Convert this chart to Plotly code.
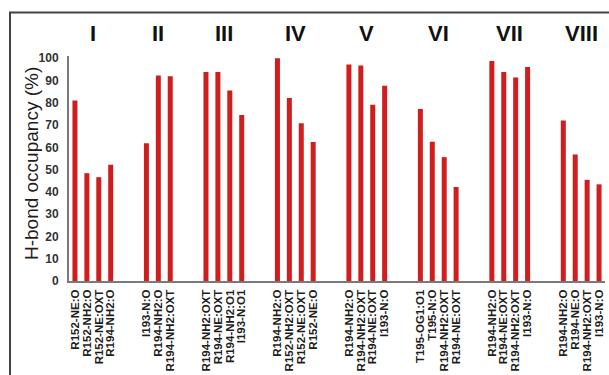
import plotly.graph_objects as go

# H-bond occupancy (%) per interaction, grouped by complex I-VIII
groups = ["I", "II", "III", "IV", "V", "VI", "VII", "VIII"]

labels_I = ["R152-NE:O", "R152-NH2:O", "R152-NE:OXT", "R194-NH2:O"]
values_I = [81.0, 48.4, 46.6, 52.2]

labels_II = ["I193-N:O", "R194-NH2:O", "R194-NH2:OXT"]
values_II = [61.8, 92.3, 91.9]

labels_III = ["R194-NH2:OXT", "R194-NE:OXT", "R194-NH2:O1", "I193-N:O1"]
values_III = [93.8, 93.8, 85.5, 74.5]

labels_IV = ["R194-NH2:O", "R152-NH2:OXT", "R152-NE:OXT", "R152-NE:O"]
values_IV = [100.0, 82.2, 70.8, 62.4]

labels_V = ["R194-NH2:O", "R194-NH2:OXT", "R194-NE:OXT", "I193-N:O"]
values_V = [97.2, 96.7, 79.1, 87.7]

labels_VI = ["T195-OG1:O1", "T195-N:O", "R194-NH2:OXT", "R194-NE:OXT"]
values_VI = [77.2, 62.5, 55.6, 42.2]

labels_VII = ["R194-NH2:O", "R194-NE:OXT", "R194-NH2:OXT", "I193-N:O"]
values_VII = [98.8, 93.8, 91.4, 96.1]

labels_VIII = ["R194-NH2:O", "R194-NE:O", "R194-NH2:OXT", "I193-N:O"]
values_VIII = [72.1, 56.8, 45.4, 43.4]

group_labels = [labels_I, labels_II, labels_III, labels_IV,
                labels_V, labels_VI, labels_VII, labels_VIII]
group_values = [values_I, values_II, values_III, values_IV,
                values_V, values_VI, values_VII, values_VIII]

GAP = 2  # empty slots between groups

xs, ys, ticks, centers = [], [], [], []
slot = 0
for labs, vals in zip(group_labels, group_values):
    start = slot
    for lab, v in zip(labs, vals):
        xs.append(slot)
        ys.append(v)
        ticks.append(lab)
        slot += 1
    centers.append((start + slot - 1) / 2)
    slot += GAP
last_slot = xs[-1]

BAR = "#d01e1e"
AXIS = "#7a7a7a"
TEXT = "#1e1e1e"
FONT = "Liberation Sans, Arial, sans-serif"

fig = go.Figure(go.Bar(
    x=xs, y=ys, width=0.42,
    marker=dict(color=BAR, line=dict(width=0)),
    hoverinfo="skip",
))

W, H = 609, 375
ML, MR, MT, MB = 69, 4, 56, 92
pw, ph = W - ML - MR, H - MT - MB

def px_x(p):
    return (p - ML) / pw

def px_y(p):
    return (H - MB - p) / ph

annotations = [
    dict(x=c, y=px_y(33), xref="x", yref="paper", text=g, showarrow=False,
         font=dict(family=FONT, size=22, color="#111", weight="bold"),
         xanchor="center", yanchor="middle")
    for g, c in zip(groups, centers)
]
annotations.append(dict(
    x=px_x(31), y=px_y(165), xref="paper", yref="paper",
    text="H-bond occupancy (%)", showarrow=False, textangle=-90,
    font=dict(family=FONT, size=19, color=TEXT),
    xanchor="center", yanchor="middle"))

frame = dict(
    type="path", xref="paper", yref="paper",
    path=f"M {px_x(10)} {px_y(380)} L {px_x(10)} {px_y(12)} L {px_x(615)} {px_y(12)}",
    line=dict(color="#444", width=2),
)

fig.update_layout(
    width=W, height=H,
    margin=dict(l=ML, r=MR, t=MT, b=MB),
    paper_bgcolor="white", plot_bgcolor="white",
    showlegend=False,
    annotations=annotations,
    shapes=[frame],
    xaxis=dict(
        range=[-0.5, last_slot + 0.5],
        tickmode="array", tickvals=xs, ticktext=ticks,
        tickangle=-90, ticks="outside", ticklen=2, tickcolor="rgba(0,0,0,0)",
        showgrid=False, zeroline=False,
        showline=True, linecolor=AXIS, linewidth=2,
        tickfont=dict(family=FONT, size=11.5, color=TEXT, weight="bold"),
    ),
    yaxis=dict(
        range=[0, 101], tickmode="array",
        tickvals=[0, 10, 20, 30, 40, 50, 60, 70, 80, 90, 100],
        showgrid=False, zeroline=False,
        showline=True, linecolor=AXIS, linewidth=2,
        ticks="outside", ticklen=6, tickcolor="rgba(0,0,0,0)",
        tickfont=dict(family=FONT, size=12, color="#333", weight="bold"),
    ),
)

fig.write_html("out.html")
